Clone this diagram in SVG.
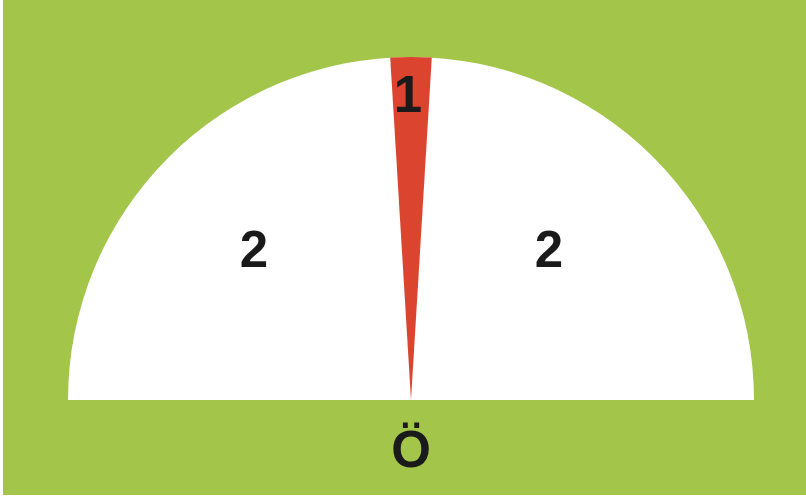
<svg xmlns="http://www.w3.org/2000/svg" width="806" height="497" viewBox="0 0 806 497">
<style>
.lbl{font-family:"Liberation Sans",Arial,sans-serif;font-weight:bold;font-size:51px;fill:#1a1a1a;text-anchor:middle}
</style>
<rect x="0" y="0" width="806" height="497" fill="#ffffff"/>
<rect x="3" y="0" width="803" height="495" fill="#a3c54a"/>
<g id="half-disc">
<path d="M68,400 A343,343 0 0 1 754,400 Z" fill="#ffffff"/>
</g>
<g id="red-wedge">
<path d="M411,400 L390.2,57.6 A343,343 0 0 1 431.8,57.6 Z" fill="#db4530"/>
</g>
<g id="labels">
<text class="lbl" x="408" y="112">1</text>
<text class="lbl" x="254" y="267">2</text>
<text class="lbl" x="549" y="267">2</text>
<text class="lbl" x="411" y="467">Ö</text>
</g>
</svg>
